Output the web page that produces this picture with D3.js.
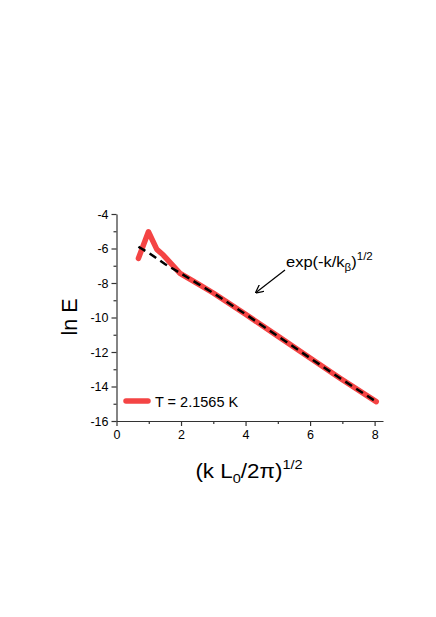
<!DOCTYPE html>
<html><head><meta charset="utf-8">
<script src="https://cdn.jsdelivr.net/npm/d3@7"></script>
<style>body{margin:0;background:#fff}svg{display:block}text{font-family:"Liberation Sans",Arial,sans-serif;fill:#000}</style>
</head><body><svg id="c" width="436" height="617"></svg>
<script>
const dataX = [0.68, 0.99, 1.25, 1.45, 1.97, 2.5, 3.0, 4.0, 5.0, 6.0, 6.93, 8.05];
const dataY = [-6.57, -5.03, -6.05, -6.38, -7.44, -8.02, -8.58, -9.81, -11.08, -12.35, -13.52, -14.88];
const fitX = [0.68, 1.0, 1.5, 2.0, 2.5, 3.0, 4.0, 5.0, 6.0, 6.93, 8.05];
const fitY = [-5.9, -6.25, -6.9, -7.45, -8.02, -8.58, -9.81, -11.08, -12.35, -13.52, -14.88];
const xTicks = [0, 2, 4, 6, 8];
const yTicks = [-4, -6, -8, -10, -12, -14, -16];
const legendLabel = "T = 2.1565 K";

const svg = d3.select("#c");
const x = d3.scaleLinear().domain([0, 8.26]).range([116.5, 383]);
const y = d3.scaleLinear().domain([-16, -4]).range([421, 214]);

const gx = svg.append("g").attr("transform", "translate(0,421)");
gx.call(d3.axisBottom(x).tickValues(xTicks).tickFormat(d3.format("d")).tickSize(5).tickPadding(4).tickSizeOuter(0));
gx.append("g").call(d3.axisBottom(x).tickValues([1,3,5,7]).tickFormat("").tickSize(3).tickSizeOuter(0)).select(".domain").remove();
const gy = svg.append("g").attr("transform", "translate(116.5,0)");
gy.call(d3.axisLeft(y).tickValues(yTicks).tickFormat(d => d3.format("d")(d).replace("−","-")).tickSize(5).tickPadding(3).tickSizeOuter(0));
gy.append("g").call(d3.axisLeft(y).tickValues([-5,-7,-9,-11,-13,-15]).tickFormat("").tickSize(3).tickSizeOuter(0)).select(".domain").remove();
svg.selectAll(".tick text").attr("font-size", 12.5).attr("font-family", "Liberation Sans, Arial, sans-serif").attr("fill","#000");
svg.selectAll(".domain, .tick line").attr("stroke", "#333").attr("stroke-width", 1.2);

const line = d3.line().x(d => x(d[0])).y(d => y(d[1]));
svg.append("path").datum(dataX.map((v,i)=>[v,dataY[i]]))
  .attr("d", line).attr("fill","none").attr("stroke","#f44444").attr("stroke-width",5.5)
  .attr("stroke-linejoin","round").attr("stroke-linecap","round");
svg.append("path").datum(fitX.map((v,i)=>[v,fitY[i]]))
  .attr("d", line).attr("fill","none").attr("stroke","#000").attr("stroke-width",2.5)
  .attr("stroke-dasharray","8,5");

// axis titles
svg.append("text").attr("transform","translate(77,317) rotate(-90)").attr("text-anchor","middle")
  .attr("font-size",21.5).text("ln E");
const xt = svg.append("text").attr("transform","translate(249,478) scale(1.12,1)").attr("text-anchor","middle").attr("font-size",20);
xt.append("tspan").text("(k L");
xt.append("tspan").attr("font-size",13).attr("dy",5).text("0");
xt.append("tspan").attr("dy",-5).text("/2π)");
xt.append("tspan").attr("font-size",13).attr("dy",-9).text("1/2");

// annotation
const at = svg.append("text").attr("transform","translate(286,267) scale(1.1,1)").attr("font-size",15);
at.append("tspan").text("exp(-k/k");
at.append("tspan").attr("font-size",10.5).attr("dy",4).text("β");
at.append("tspan").attr("dy",-4).text(")");
at.append("tspan").attr("font-size",10.5).attr("dy",-7).text("1/2");
svg.append("defs").append("marker").attr("id","ah").attr("viewBox","0 0 10 10").attr("refX",9).attr("refY",5)
  .attr("markerWidth",7).attr("markerHeight",7).attr("orient","auto")
  .append("path").attr("d","M0,0 L10,5 L0,10").attr("fill","none").attr("stroke","#000").attr("stroke-width",1.5);
svg.append("line").attr("x1",285).attr("y1",270).attr("x2",256).attr("y2",292.5)
  .attr("stroke","#000").attr("stroke-width",1.2).attr("marker-end","url(#ah)");

// legend
svg.append("line").attr("x1",126).attr("x2",148).attr("y1",401).attr("y2",401)
  .attr("stroke","#f44444").attr("stroke-width",5.5).attr("stroke-linecap","round");
svg.append("text").attr("x",155).attr("y",406.5).attr("font-size",14.5).text(legendLabel);
</script></body></html>
